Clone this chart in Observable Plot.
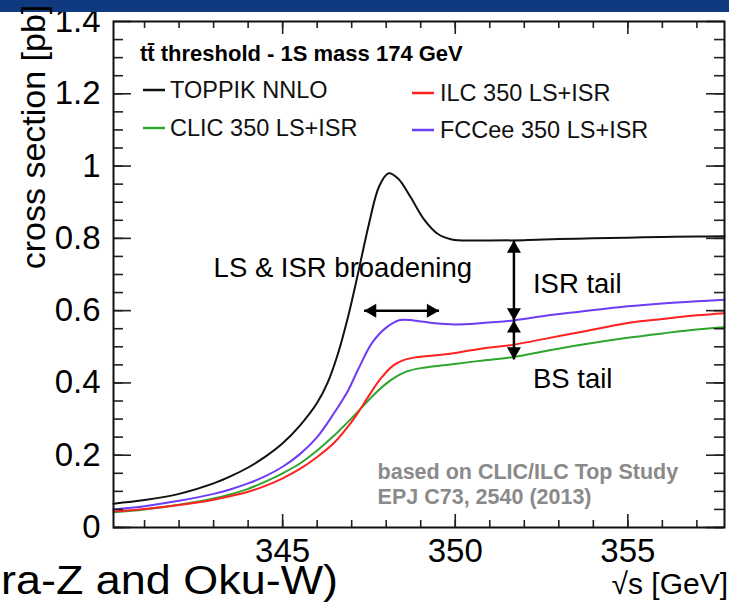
<!DOCTYPE html>
<html><head><meta charset="utf-8">
<script src="https://cdn.jsdelivr.net/npm/d3@7"></script>
<script src="https://cdn.jsdelivr.net/npm/@observablehq/plot@0.6"></script>
<style>
html,body{margin:0;padding:0;background:#fff;}
#wrap{position:relative;width:729px;height:603px;overflow:hidden;background:#fff;font-family:"Liberation Sans",Arial,Helvetica,sans-serif;}
#wrap svg{position:absolute;left:0;top:0;}
</style></head><body><div id="wrap"></div>
<script>
// ---- data ----
const seriesNames = ["TOPPIK NNLO", "CLIC 350 LS+ISR", "ILC 350 LS+ISR", "FCCee 350 LS+ISR"];
const seriesColors = ["#111111", "#2ea52e", "#ff2020", "#6e3cf5"];

const toppikX = [340.1, 341, 342, 343, 343.5, 344, 344.5, 345, 345.5, 346, 346.3, 346.6, 346.9, 347.2, 347.5, 347.8, 348.07, 348.35, 348.7, 349.1, 349.5, 349.9, 350.5, 351, 352, 353, 354, 355, 356, 357, 357.8];
const toppikY = [0.066, 0.076, 0.093, 0.122, 0.142, 0.166, 0.196, 0.233, 0.282, 0.345, 0.40, 0.48, 0.585, 0.71, 0.84, 0.945, 0.98, 0.965, 0.915, 0.852, 0.812, 0.797, 0.794, 0.794, 0.795, 0.798, 0.800, 0.802, 0.804, 0.805, 0.806];

const clicX = [340.1, 341, 342, 343, 343.5, 344, 344.5, 345, 345.5, 346, 346.5, 346.9, 347.3, 347.65, 348, 348.3, 348.6, 349, 349.8, 350.7, 351.7, 352.7, 353.6, 355, 356, 357, 357.8];
const clicY = [0.042, 0.05, 0.063, 0.08, 0.092, 0.107, 0.127, 0.15, 0.177, 0.213, 0.255, 0.293, 0.333, 0.368, 0.398, 0.418, 0.432, 0.441, 0.45, 0.461, 0.472, 0.49, 0.505, 0.525, 0.537, 0.548, 0.554];

const ilcX = [340.1, 341, 342, 343, 343.5, 344, 344.5, 345, 345.5, 346, 346.5, 346.9, 347.2, 347.5, 347.85, 348.2, 348.5, 348.8, 349.8, 350.7, 351.7, 352.7, 353.6, 355, 356, 357, 357.8];
const ilcY = [0.044, 0.051, 0.062, 0.077, 0.087, 0.099, 0.115, 0.136, 0.162, 0.195, 0.235, 0.28, 0.32, 0.365, 0.413, 0.448, 0.463, 0.47, 0.48, 0.494, 0.506, 0.524, 0.54, 0.566, 0.577, 0.587, 0.593];

const fccX = [340.1, 341, 342, 343, 343.5, 344, 344.5, 345, 345.5, 346, 346.5, 346.9, 347.2, 347.6, 348, 348.4, 348.8, 349.4, 350, 350.7, 351.7, 352.7, 353.6, 355, 356, 357, 357.8];
const fccY = [0.05, 0.059, 0.074, 0.093, 0.106, 0.122, 0.142, 0.168, 0.203, 0.25, 0.318, 0.38, 0.44, 0.512, 0.553, 0.574, 0.573, 0.565, 0.562, 0.565, 0.573, 0.587, 0.597, 0.612, 0.62, 0.626, 0.63];

const xTickLabels = [345, 350, 355];
const yTickLabels = [0, 0.2, 0.4, 0.6, 0.8, 1, 1.2, 1.4];

const annotTexts = ["LS & ISR broadening", "ISR tail", "BS tail"];
const annotX = [343.0, 352.25, 352.25];
const annotY = [0.717, 0.672, 0.41];

const creditTexts = ["based on CLIC/ILC Top Study", "EPJ C73, 2540 (2013)"];
const creditX = [347.75, 347.75];
const creditY = [0.152, 0.083];

// double-headed arrows: [x1, y1, x2, y2]
const arrowX1 = [347.36, 351.7, 351.7];
const arrowY1 = [0.600, 0.794, 0.573];
const arrowX2 = [349.53, 351.7, 351.7];
const arrowY2 = [0.600, 0.573, 0.465];

// ---- build ----
const W = 729, H = 603, mL = 113, mR = 5, mT = 21, mB = 76;
const pw = W - mL - mR, ph = H - mT - mB;

const seriesX = [toppikX, clicX, ilcX, fccX];
const seriesY = [toppikY, clicY, ilcY, fccY];
const rows = seriesNames.flatMap((name, k) => seriesX[k].map((x, i) => ({series: name, x, y: seriesY[k][i]})));

const annots = annotTexts.map((t, i) => ({text: t, x: annotX[i], y: annotY[i]}));
const credits = creditTexts.map((t, i) => ({text: t, x: creditX[i], y: creditY[i]}));
const arrows = arrowX1.map((x1, i) => ({x1, y1: arrowY1[i], x2: arrowX2[i], y2: arrowY2[i]}));
const vert = arrows.filter(a => a.x1 === a.x2);
const horiz = arrows.filter(a => a.y1 === a.y2);
const upHeads = vert.map(a => ({x: a.x1, y: Math.max(a.y1, a.y2)}));
const downHeads = vert.map(a => ({x: a.x1, y: Math.min(a.y1, a.y2)}));
const leftHeads = horiz.map(a => ({x: Math.min(a.x1, a.x2), y: a.y1}));
const rightHeads = horiz.map(a => ({x: Math.max(a.x1, a.x2), y: a.y1}));

const xMinor = d3.range(341, 358, 1);
const yMinor = d3.range(0, 28).map(i => i * 0.05);
const tickStyle = {stroke: "#222", strokeWidth: 1.6};
const headR = 5.2, headOff = 8.1;

const plot = Plot.plot({
  width: W, height: H,
  marginLeft: mL, marginRight: mR, marginTop: mT, marginBottom: mB,
  x: {domain: [340.1, 357.8]},
  y: {domain: [0, 1.4]},
  color: {domain: seriesNames, range: seriesColors},
  style: {fontFamily: '"Liberation Sans", Arial, Helvetica, sans-serif', color: "#000", background: "transparent"},
  marks: [
    Plot.line(rows, {x: "x", y: "y", z: "series", stroke: "series", strokeWidth: 2, curve: "catmull-rom"}),
    // inward ticks on all four sides
    Plot.tickX(xMinor, {x: d => d, insetTop: ph - 7, ...tickStyle}),
    Plot.tickX(xMinor, {x: d => d, insetBottom: ph - 7, ...tickStyle}),
    Plot.tickX(xTickLabels, {x: d => d, insetTop: ph - 13, ...tickStyle}),
    Plot.tickX(xTickLabels, {x: d => d, insetBottom: ph - 13, ...tickStyle}),
    Plot.tickY(yMinor, {y: d => d, insetRight: pw - 10, ...tickStyle}),
    Plot.tickY(yMinor, {y: d => d, insetLeft: pw - 10, ...tickStyle}),
    Plot.tickY(yTickLabels, {y: d => d, insetRight: pw - 18, ...tickStyle}),
    Plot.tickY(yTickLabels, {y: d => d, insetLeft: pw - 18, ...tickStyle}),
    Plot.frame({stroke: "#111", strokeWidth: 2}),
    Plot.axisX({ticks: xTickLabels, tickSize: 0, tickPadding: 11, fontSize: 33, label: null, tickFormat: d => String(d)}),
    Plot.axisY({ticks: yTickLabels, tickSize: 0, tickPadding: 13, fontSize: 33, label: null, tickFormat: d => String(+d.toFixed(1))}),
    // annotations
    Plot.link(arrows, {x1: "x1", y1: "y1", x2: "x2", y2: "y2", stroke: "#000", strokeWidth: 2.5}),
    Plot.dot(upHeads, {x: "x", y: "y", symbol: "triangle", r: headR, fill: "#000", dy: headOff}),
    Plot.dot(downHeads, {x: "x", y: "y", symbol: "triangle", r: headR, fill: "#000", rotate: 180, dy: -headOff}),
    Plot.dot(leftHeads, {x: "x", y: "y", symbol: "triangle", r: headR, fill: "#000", rotate: -90, dx: headOff}),
    Plot.dot(rightHeads, {x: "x", y: "y", symbol: "triangle", r: headR, fill: "#000", rotate: 90, dx: -headOff}),
    Plot.text(annots, {x: "x", y: "y", text: "text", textAnchor: "start", fontSize: 27.5, fill: "#000"}),
    Plot.text(credits, {x: "x", y: "y", text: "text", textAnchor: "start", fontSize: 21.5, fontWeight: "bold", fill: "#8a8a8a"})
  ]
});
const wrap = document.getElementById("wrap");
wrap.appendChild(plot);

// ---- overlay: slide band, axis titles, legend ----
const legendPos = [
  {lx: 143, ly: 90, tx: 170},
  {lx: 143, ly: 128, tx: 170},
  {lx: 412, ly: 93, tx: 440},
  {lx: 412, ly: 130, tx: 440}
];
let legendSvg = "";
seriesNames.forEach((name, i) => {
  const p = legendPos[i];
  legendSvg += `<line x1="${p.lx}" x2="${p.lx + 22}" y1="${p.ly}" y2="${p.ly}" stroke="${seriesColors[i]}" stroke-width="2.5"/>`;
  legendSvg += `<text x="${p.tx}" y="${p.ly + 8}" font-size="23.5" fill="#111">${name}</text>`;
});
const overlay = `
<svg width="${W}" height="${H}" xmlns="http://www.w3.org/2000/svg" font-family='"Liberation Sans", Arial, Helvetica, sans-serif'>
  <rect x="0" y="0" width="${W}" height="12" fill="#0f3a80"/>
  <text transform="translate(45,137) rotate(-90)" text-anchor="middle" font-size="34" fill="#000">cross section [pb]</text>
  <text x="140" y="61" font-size="22" font-weight="bold" fill="#000">tt\u0304 threshold - 1S mass 174 GeV</text>
  ${legendSvg}
  <text x="728" y="594" text-anchor="end" font-size="30" fill="#000">\u221As [GeV]</text>
  <text x="1" y="594" text-anchor="start" font-size="41" textLength="337" lengthAdjust="spacingAndGlyphs" fill="#000">ra-Z and Oku-W)</text>
</svg>`;
wrap.insertAdjacentHTML("beforeend", overlay);
</script>
</body></html>
